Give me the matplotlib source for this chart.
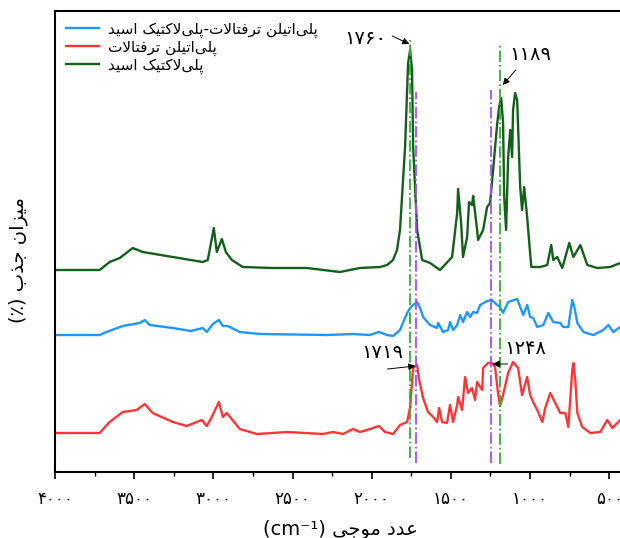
import matplotlib
matplotlib.use('Agg')
import matplotlib.pyplot as plt
from matplotlib.ticker import FixedLocator, MultipleLocator

plt.rcParams['font.family'] = ['DejaVu Sans']

# wavenumber (cm-1) and stacked absorbance
pla_wn = [4000, 3718, 3655, 3591, 3509, 3446, 3256, 3067, 3035, 2997, 2978, 2946,
          2921, 2883, 2814, 2624, 2409, 2200, 2074, 1947, 1903, 1865, 1840, 1821,
          1789, 1770, 1757, 1745, 1738, 1713, 1681, 1631, 1568, 1492, 1460, 1454,
          1435, 1423, 1397, 1385, 1366, 1359, 1334, 1328, 1296, 1271, 1252, 1233,
          1208, 1195, 1182, 1170, 1163, 1151, 1138, 1125, 1113, 1107, 1094, 1081,
          1062, 1050, 1037, 1018, 992, 935, 891, 866, 853, 828, 796, 752, 726, 682,
          638, 575, 493, 430, 400]
pla_abs = [202, 202, 210, 214, 224, 220, 215, 210, 212, 244, 220, 233,
           220, 212, 205, 204, 204, 200, 204, 205, 207, 212, 222, 242,
           325, 409, 422, 402, 325, 242, 212, 209, 202, 215, 259, 283,
           249, 215, 235, 270, 267, 276, 242, 232, 242, 265, 269, 302,
           347, 365, 374, 349, 275, 242, 315, 342, 315, 362, 379, 372,
           285, 262, 285, 255, 205, 205, 207, 227, 212, 215, 204, 229, 215, 227,
           207, 204, 205, 209, 209]

blend_wn = [4000, 3718, 3674, 3572, 3465, 3433, 3402, 3256, 3142, 3067, 3041, 3003,
            2965, 2940, 2909, 2833, 2706, 2283, 2118, 2011, 1954, 1903, 1865, 1821,
            1776, 1757, 1738, 1713, 1694, 1675, 1631, 1587, 1580, 1549, 1517, 1505,
            1486, 1460, 1441, 1423, 1397, 1378, 1359, 1334, 1315, 1271, 1240, 1208,
            1189, 1170, 1138, 1081, 1062, 1043, 1018, 999, 980, 954, 916, 884, 853,
            809, 790, 758, 733, 720, 701, 663, 600, 537, 505, 474, 430, 400]
blend_abs = [137, 137, 140, 146, 149, 152, 147, 144, 141, 144, 140, 148,
             152, 146, 146, 140, 138, 137, 138, 137, 140, 137, 136, 142,
             159, 164, 167, 170, 164, 155, 147, 144, 149, 140, 142, 150,
             142, 147, 157, 150, 160, 155, 160, 159, 167, 171, 172, 167,
             165, 159, 170, 173, 165, 157, 167, 155, 154, 145, 147, 159, 150,
             149, 145, 145, 172, 165, 149, 140, 137, 142, 147, 140, 145, 145]

pet_wn = [4000, 3718, 3655, 3572, 3484, 3433, 3383, 3256, 3168, 3073, 3041, 3010,
          2965, 2940, 2915, 2833, 2725, 2535, 2308, 2245, 2181, 2118, 2074, 2030,
          1954, 1916, 1865, 1821, 1776, 1757, 1738, 1713, 1700, 1675, 1644, 1612,
          1587, 1574, 1555, 1524, 1505, 1486, 1460, 1454, 1429, 1410, 1391, 1366,
          1347, 1334, 1302, 1296, 1265, 1240, 1221, 1202, 1189, 1170, 1138, 1107,
          1075, 1050, 1018, 999, 980, 954, 922, 904, 872, 840, 809, 777, 758, 733,
          726, 714, 701, 670, 619, 556, 512, 480, 430, 400]
pet_abs = [39, 39, 50, 60, 62, 68, 59, 50, 46, 52, 46, 55,
           70, 55, 59, 43, 38, 40, 38, 40, 38, 43, 40, 42,
           46, 40, 38, 47, 50, 65, 104, 107, 92, 74, 60, 55,
           50, 64, 50, 49, 67, 50, 67, 75, 62, 95, 79, 84,
           72, 90, 82, 104, 109, 109, 105, 79, 66, 77, 99, 110,
           104, 77, 95, 77, 70, 62, 50, 64, 79, 69, 59, 59, 45, 102,
           109, 92, 59, 45, 39, 40, 52, 44, 52, 52]

tick_pos = [4000, 3500, 3000, 2500, 2000, 1500, 1000, 500]
tick_lbl = ['۴۰۰۰', '۳۵۰۰', '۳۰۰۰', '۲۵۰۰', '۲۰۰۰', '۱۵۰۰', '۱۰۰۰', '۵۰۰']

# marked bands: green = PLA / PET-PLA, purple = PET
green_marks = [1760, 1189]
purple_marks = [1719, 1248]

# contextual glyph forms: isolated, final, initial, medial
FORMS = {
    '\u0627': '\uFE8D\uFE8E',
    '\u0628': '\uFE8F\uFE90\uFE91\uFE92',
    '\u067E': '\uFB56\uFB57\uFB58\uFB59',
    '\u062A': '\uFE95\uFE96\uFE97\uFE98',
    '\u062C': '\uFE9D\uFE9E\uFE9F\uFEA0',
    '\u062F': '\uFEA9\uFEAA',
    '\u0630': '\uFEAB\uFEAC',
    '\u0631': '\uFEAD\uFEAE',
    '\u0632': '\uFEAF\uFEB0',
    '\u0633': '\uFEB1\uFEB2\uFEB3\uFEB4',
    '\u0639': '\uFEC9\uFECA\uFECB\uFECC',
    '\u0641': '\uFED1\uFED2\uFED3\uFED4',
    '\u06A9': '\uFB8E\uFB8F\uFB90\uFB91',
    '\u0644': '\uFEDD\uFEDE\uFEDF\uFEE0',
    '\u0645': '\uFEE1\uFEE2\uFEE3\uFEE4',
    '\u0646': '\uFEE5\uFEE6\uFEE7\uFEE8',
    '\u0648': '\uFEED\uFEEE',
    '\u06CC': '\uFBFC\uFBFD\uFBFE\uFBFF',
}


def rtl(text):
    ''' Shape Persian letters and put them in visual (left to right) order '''
    out = []
    i = 0
    while i < len(text):
        ch = text[i]
        if ch == '\u200c':
            i += 1
            continue
        if ch not in FORMS:
            out.append(ch)
            i += 1
            continue
        prev = text[i - 1] if i > 0 else ''
        joins_prev = len(FORMS.get(prev, '')) == 4
        nxt = text[i + 1] if i + 1 < len(text) else ''
        if ch == '\u0644' and nxt == '\u0627':
            out.append('\uFEFC' if joins_prev else '\uFEFB')
            i += 2
            continue
        forms = FORMS[ch]
        joins_next = len(forms) == 4 and nxt in FORMS
        if joins_prev and joins_next:
            out.append(forms[3])
        elif joins_next:
            out.append(forms[2])
        elif joins_prev:
            out.append(forms[1])
        else:
            out.append(forms[0])
        i += 1
    return ''.join(reversed(out))


fig = plt.figure(figsize=(6.2, 5.38), dpi=100)
ax = fig.add_axes([55 / 620, 66 / 538, 570 / 620, 461 / 538])

ax.plot(blend_wn, blend_abs, color='#1E96FF', lw=1.7,
        label=rtl('پلی‌اتیلن ترفتالات-پلی‌لاکتیک اسید'))
ax.plot(pet_wn, pet_abs, color='#FF3535', lw=1.7,
        label=rtl('پلی‌اتیلن ترفتالات'))
ax.plot(pla_wn, pla_abs, color='#13601A', lw=1.7,
        label=rtl('پلی‌لاکتیک اسید'))

ax.plot([green_marks[0]] * 2, [14, 432], color='#2DB32D', ls='-.', lw=1.3)
ax.plot([green_marks[1]] * 2, [8, 429], color='#2DB32D', ls='-.', lw=1.3)
ax.plot([purple_marks[0]] * 2, [9, 380], color='#A54DF5', ls='-.', lw=1.3)
ax.plot([purple_marks[1]] * 2, [9, 382], color='#A54DF5', ls='-.', lw=1.3)

arrow = dict(arrowstyle='-|>', color='k', lw=0.7, mutation_scale=10,
             shrinkA=0, shrinkB=0)
ax.text(2040, 434, '۱۷۶۰', fontsize=14, ha='center', va='center')
ax.annotate('', xy=(1762, 428), xytext=(1870, 436), arrowprops=arrow)
ax.text(1000, 417, '۱۱۸۹', fontsize=14, ha='center', va='center')
ax.annotate('', xy=(1172, 387), xytext=(1090, 402), arrowprops=arrow)
ax.text(1935, 120, '۱۷۱۹', fontsize=14, ha='center', va='center')
ax.annotate('', xy=(1724, 106), xytext=(1900, 103), arrowprops=arrow)
ax.text(1030, 123, '۱۲۴۸', fontsize=14, ha='center', va='center')
ax.annotate('', xy=(1236, 108), xytext=(1140, 108), arrowprops=arrow)

ax.set_xlim(4000, 400)
ax.set_ylim(0, 461)
ax.xaxis.set_major_locator(FixedLocator(tick_pos))
ax.set_xticklabels(tick_lbl, fontsize=12)
ax.xaxis.set_minor_locator(MultipleLocator(250))
ax.tick_params(axis='x', which='major', direction='out', length=5, width=1.2, pad=8)
ax.tick_params(axis='x', which='minor', direction='out', length=3, width=1.0)
ax.set_yticks([])
for side in ax.spines:
    ax.spines[side].set_linewidth(1.5)

ax.set_xlabel('(cm⁻¹) ' + rtl('عدد موجی'), fontsize=14, labelpad=8)
ax.set_ylabel('(٪) ' + rtl('میزان جذب'), fontsize=14)
ax.yaxis.set_label_coords(-0.047, 0.46)

ax.legend(loc='upper left', frameon=False, fontsize=11, handlelength=2.2,
          borderaxespad=0.3, labelspacing=0.1, handletextpad=0.6)

fig.savefig('out.png', dpi=100)
